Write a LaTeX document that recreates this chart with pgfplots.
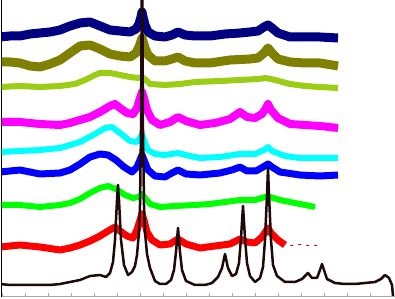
\documentclass[border=0pt]{standalone}
\usepackage{pgfplots}
\pgfplotsset{compat=1.18}
\definecolor{cnavy}{RGB}{0,0,128}
\definecolor{colive}{RGB}{128,128,0}
\definecolor{cyg}{RGB}{154,205,20}
\definecolor{cmag}{RGB}{255,0,255}
\definecolor{ccyan}{RGB}{0,255,255}
\definecolor{cblue}{RGB}{0,0,255}
\definecolor{cgreen}{RGB}{0,255,0}
\definecolor{cred}{RGB}{255,0,0}
\definecolor{cblack}{RGB}{30,8,8}
\begin{document}
\begin{tikzpicture}
\begin{axis}[
  scale only axis, width=393.5bp, height=296.5bp,
  xmin=1.5, xmax=395, ymin=2.5, ymax=299,
  axis x line=bottom, axis y line=left,
  axis line style={-},
  x axis line style={gray!70, line width=0.8bp},
  y axis line style={black, line width=0.8bp},
  xtick={2,25,48,71,94,117,140,163,186,209,232,255,278,301,324,347,370,393},
  xticklabels={}, ytick=\empty,
  tick align=inside, major tick length=3bp,
  xtick style={gray!70, line width=0.8bp},
  line join=round,
]
\addplot[cnavy, line width=9bp] table[y expr=299-\thisrowno{1}] {
x y
0 37
10 36
20 36
30 34
40 33
50 32
60 30
70 26
80 23
90 22
100 26
110 30
120 31
130 32
136 29
139 24
141 17
142 12
143 17
145 25
148 32
155 36
165 37
172 35
178 32
185 35
195 36
210 36
225 34
240 33
250 32
258 31
264 27
268 25
272 28
278 33
290 37
305 37
320 37
338 38
};
\addplot[colive, line width=9bp] table[y expr=299-\thisrowno{1}] {
x y
0 62
10 62
20 63
30 66
40 67
50 64
60 60
70 53
80 46
90 45
100 49
110 54
120 56
130 57
136 53
139 47
141 41
142 38
143 41
145 48
148 55
155 61
165 61
172 59
178 57
185 61
195 63
210 63
230 60
250 59
258 58
264 53
268 48
272 53
278 59
290 62
305 63
320 63
338 66
};
\addplot[cyg, line width=6bp] table[y expr=299-\thisrowno{1}] {
x y
0 87
20 86
40 87
60 86
75 84
85 80
95 75
100 73
110 73
120 75
130 77
138 78
142 77
146 80
150 84
165 85
180 84
195 82
220 81
240 80
258 79
266 78
275 80
290 84
305 86
320 87
338 88
};
\addplot[cmag, line width=8bp] table[y expr=299-\thisrowno{1}] {
x y
0 122
20 122
40 124
60 125
70 123
80 120
90 117
100 112
110 106
115 104
120 108
127 113
133 114
137 108
140 98
142 92
144 98
147 110
152 120
160 125
170 122
178 117
186 121
200 125
215 123
230 119
240 112
247 117
255 118
262 114
266 108
268 104
271 110
278 118
290 124
305 125
320 126
338 128
};
\addplot[ccyan, line width=6bp] table[y expr=299-\thisrowno{1}] {
x y
0 152
20 151
40 150
60 148
80 142
95 134
105 128
112 127
120 133
130 141
137 142
140 138
142 134
144 140
148 150
155 154
165 155
178 153
190 156
200 158
220 157
240 154
255 154
264 150
268 147
272 151
285 156
300 158
320 158
338 158
};
\addplot[cblue, line width=7bp] table[y expr=299-\thisrowno{1}] {
x y
0 172
20 170
40 174
60 173
70 170
80 164
90 157
100 154
108 155
116 160
124 167
132 172
137 167
140 160
142 155
144 160
148 170
155 176
165 177
172 173
178 170
186 174
200 175
220 173
232 170
240 167
247 171
256 171
263 167
268 164
272 167
280 172
300 175
320 176
338 175
};
\addplot[cgreen, line width=6bp] table[y expr=299-\thisrowno{1}] {
x y
0 205
20 205
40 207
60 205
70 203
80 199
90 193
100 188
108 186
116 189
125 195
133 198
139 197
142 194
145 198
150 204
160 207
175 206
195 205
210 204
225 202
240 200
255 200
265 197
270 197
280 200
295 203
315 207
};
\addplot[cred, line width=7bp] table[y expr=299-\thisrowno{1}] {
x y
0 247
20 245
40 247
60 250
70 248
80 245
90 241
100 236
108 231
115 227
120 231
127 236
133 238
137 230
140 220
142 214
144 220
147 232
152 240
160 245
170 244
178 239
186 244
200 248
215 246
230 244
240 239
247 242
255 243
262 237
266 231
268 228
271 233
278 240
285 245
};
\addplot[cred, only marks, mark=-, mark size=1.5bp] table[y expr=299-\thisrowno{1}] {
x y
291 245
299 244
307 245
315 245
};
\addplot[cblack, line width=2.5bp] table[y expr=299-\thisrowno{1}] {
x y
0 284
10 285
20 285
30 285
40 285
50 285
60 284
70 282
80 280
90 276
100 275
106 277
110 273
113 262
115 240
117 200
118 185
119 200
121 240
124 265
128 275
132 272
135 266
137 255
139 232
140 205
141 130
142 -60
143 130
144 205
145 232
147 254
150 268
155 281
160 284
166 284
171 280
174 270
176 252
178 228
180 252
182 270
186 281
195 285
205 285
212 283
218 277
222 268
225 254
228 268
232 276
236 274
239 263
241 238
243 206
245 238
247 263
250 276
255 282
260 278
263 267
265 240
267 195
268 168
269 195
271 240
273 265
277 276
285 282
295 282
302 279
308 273
312 278
317 278
320 270
322 264
324 270
327 279
335 283
345 284
355 284
365 283
375 282
381 279
385 275
389 278
392 285
393 296
};
\end{axis}
\pgfresetboundingbox
\path[use as bounding box] (-1.5bp,-2.5bp) rectangle (393.5bp,296.5bp);
\end{tikzpicture}
\end{document}
